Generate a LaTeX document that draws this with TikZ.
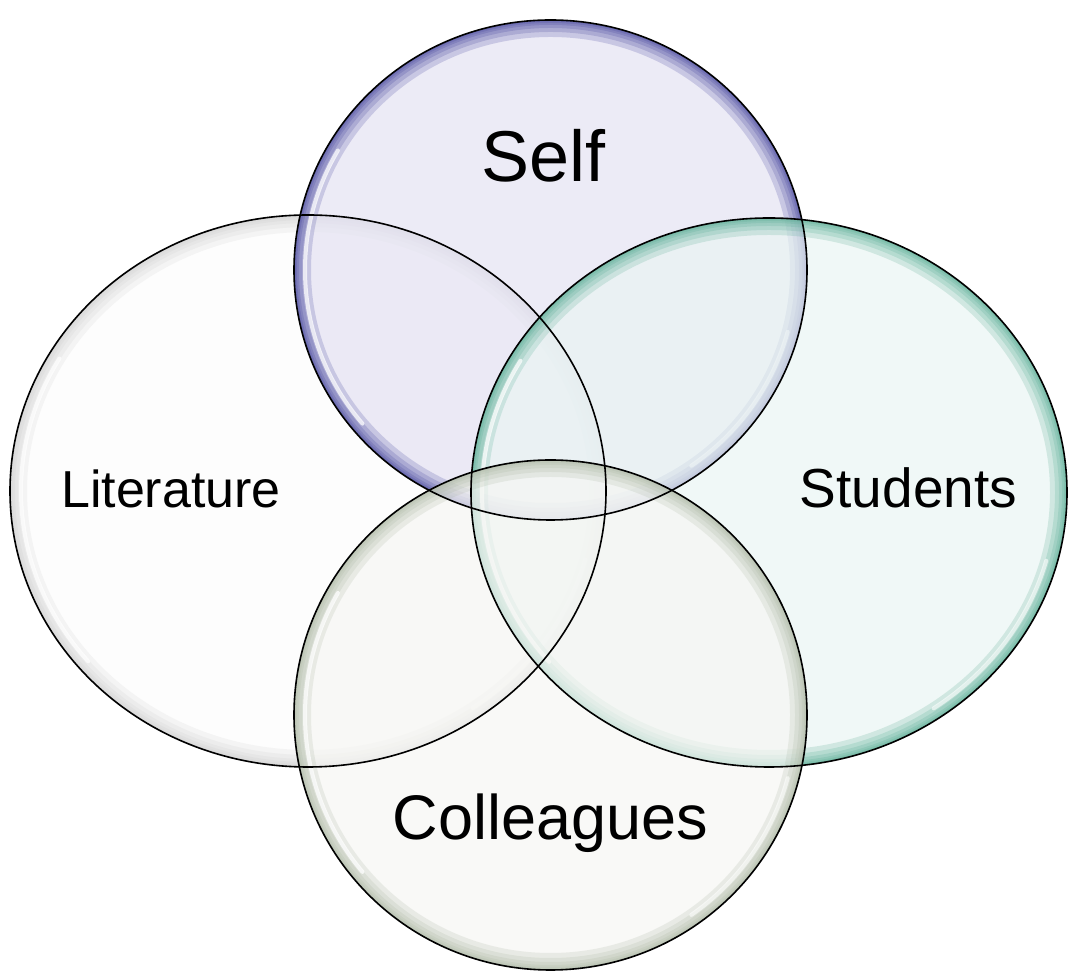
\documentclass[tikz,border=0pt]{standalone}
\usepackage{fontspec}
\setmainfont{Liberation Sans}
\usetikzlibrary{shapes.geometric}
\definecolor{selffill}{HTML}{E4E2F2}
\definecolor{selfrim}{HTML}{3C3C98}
\definecolor{stufill}{HTML}{EAF5F3}
\definecolor{sturim}{HTML}{4FA88E}
\definecolor{litfill}{HTML}{FCFCFC}
\definecolor{litrim}{HTML}{CFCFCF}
\definecolor{colfill}{HTML}{F6F6F3}
\definecolor{colrim}{HTML}{A9B5A0}
\tikzset{
  bubble/.style n args={4}{ellipse, inner sep=0pt, outer sep=0pt,
    minimum width=#1, minimum height=#2,
    fill=#3, fill opacity=0.7, draw=none,
    path picture={
      \foreach \w in {3,6,10,16,24,34}{
        \draw[draw=#4, line width=\w pt, draw opacity=0.2]
          (path picture bounding box.center) ellipse [x radius=#1/2, y radius=#2/2];
      }
      \draw[white, line width=4pt, draw opacity=0.75, line cap=round]
        (path picture bounding box.center) ++(150:#1/2-11pt and #2/2-11pt)
        arc [start angle=150, end angle=220, x radius=#1/2-11pt, y radius=#2/2-11pt];
      \draw[white, line width=4pt, draw opacity=0.6, line cap=round]
        (path picture bounding box.center) ++(-15:#1/2-11pt and #2/2-11pt)
        arc [start angle=-15, end angle=-55, x radius=#1/2-11pt, y radius=#2/2-11pt];
    }},
  rimline/.style 2 args={ellipse, inner sep=0pt, outer sep=0pt,
    minimum width=#1, minimum height=#2, draw=black, line width=1.6pt},
  label/.style={text=black, inner sep=0pt, anchor=base}
}
\begin{document}
\begin{tikzpicture}[x=1pt, y=1pt]
  \useasboundingbox (0,0) rectangle (1068,971);
  \node[bubble={596pt}{552pt}{litfill}{litrim}] (lit) at (308,480) {};
  \node[bubble={513pt}{500pt}{selffill}{selfrim}] (self) at (550.5,701) {};
  \node[bubble={596pt}{549pt}{stufill}{sturim}] (stu) at (769,478.5) {};
  \node[bubble={513pt}{510pt}{colfill}{colrim}] (col) at (550.5,256) {};
  \node[rimline={596pt}{552pt}] (lit-o) at (lit.center) {};
  \node[rimline={513pt}{500pt}] (self-o) at (self.center) {};
  \node[rimline={596pt}{549pt}] (stu-o) at (stu.center) {};
  \node[rimline={513pt}{510pt}] (col-o) at (col.center) {};
  \node[label, font=\fontsize{72}{80}\selectfont] (tself) at (543.5,789) {Self};
  \node[label, font=\fontsize{52}{60}\selectfont] (tlit) at (171,463) {Literature};
  \node[label, font=\fontsize{55}{62}\selectfont] (tstu) at (908.5,463) {Students};
  \node[label, font=\fontsize{63}{70}\selectfont] (tcol) at (550.5,131) {Colleagues};
\end{tikzpicture}
\end{document}
